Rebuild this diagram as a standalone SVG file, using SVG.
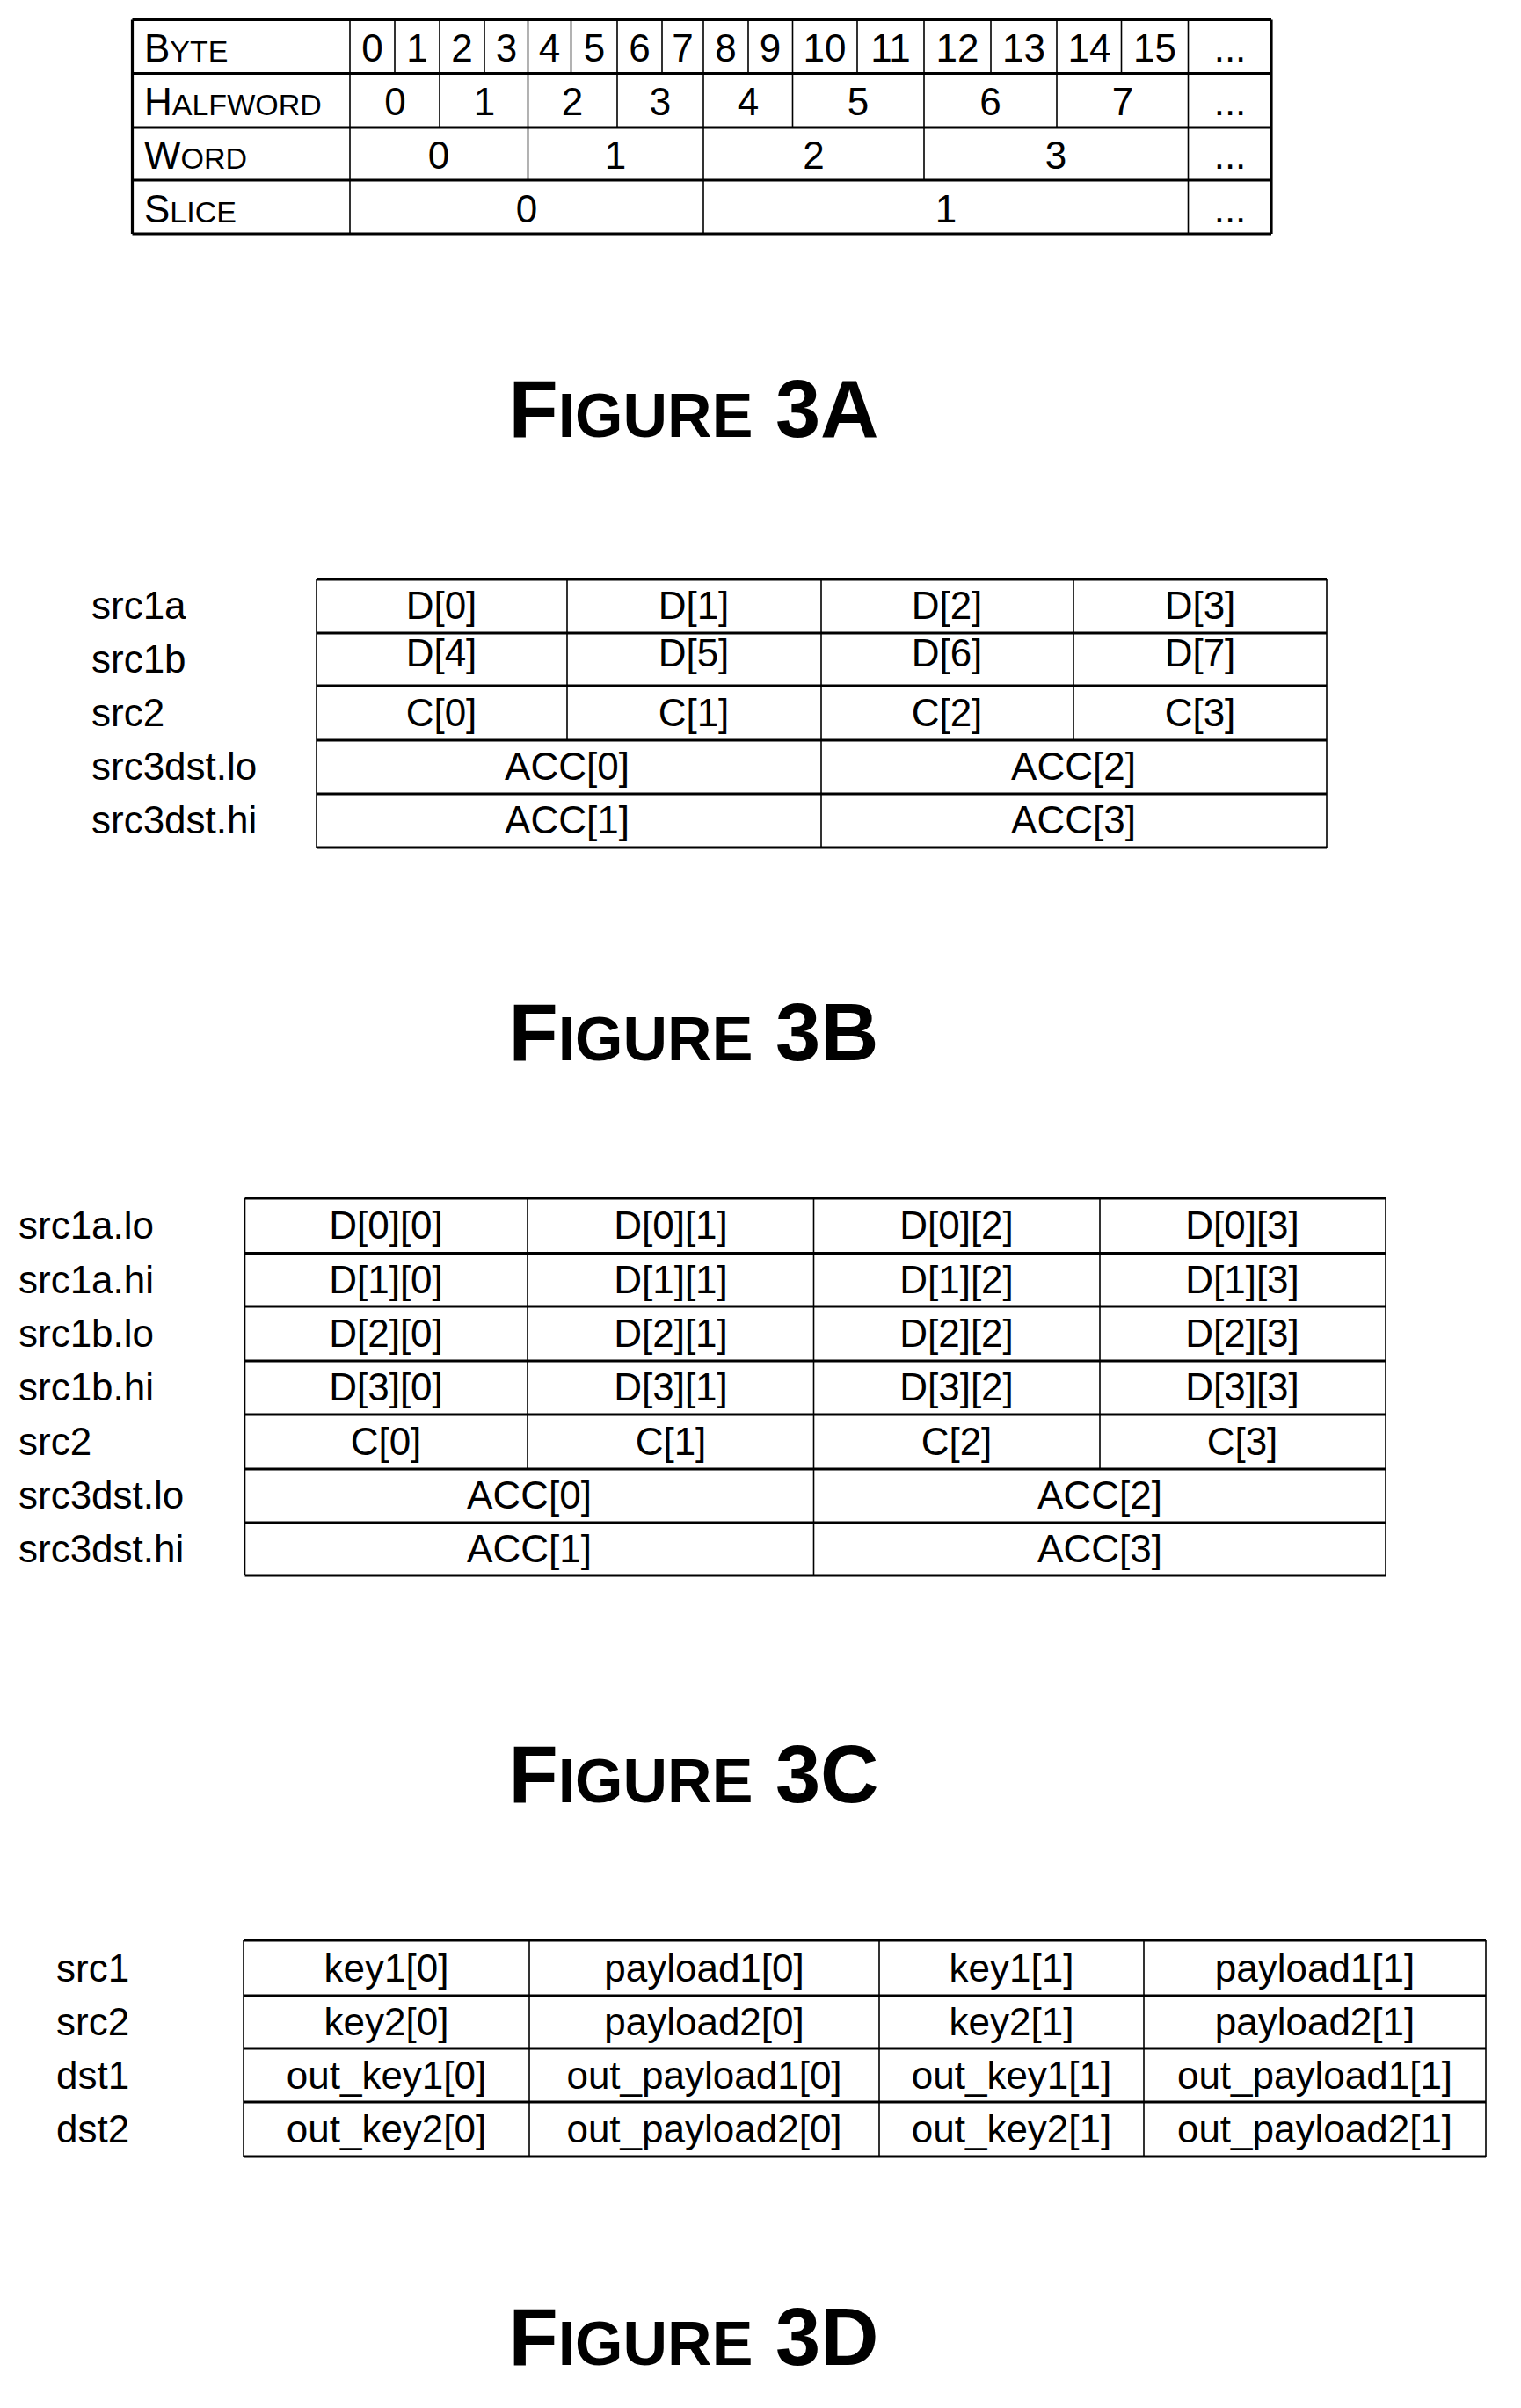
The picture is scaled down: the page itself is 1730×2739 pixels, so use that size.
<svg xmlns="http://www.w3.org/2000/svg" width="1730" height="2739" viewBox="0 0 1730 2739">
<style>
text{font-family:"Liberation Sans",Arial,sans-serif;font-size:44px;fill:#000}
.c{text-anchor:middle}
.sc{font-size:34px}
.t{font-size:92px;font-weight:bold;text-anchor:middle}
.t .sc{font-size:70px}
.v{stroke:#000;stroke-width:1.6;fill:none}
.h{stroke:#000;stroke-width:3.2;fill:none}
</style>
<rect width="1730" height="2739" fill="#fff"/>

<g id="fig3a">
<path class="v" d="M398 22.5V266M1351.5 22.5V266M800 22.5V266
M449 22.5V83.5M551 22.5V83.5M649.5 22.5V83.5M753 22.5V83.5M851 22.5V83.5M975 22.5V83.5M1127 22.5V83.5M1275.5 22.5V83.5
M500 22.5V145M702 22.5V145M901.5 22.5V145M1202 22.5V145
M600.5 22.5V205M1051 22.5V205"/>
<path class="h" d="M150.5 22.5H1446M150.5 83.5H1446M150.5 145H1446M150.5 205H1446M150.5 266H1446M150.5 22.5V266M1446 22.5V266"/>
<text x="164" y="70">B<tspan class="sc">YTE</tspan></text>
<text x="164" y="131">H<tspan class="sc">ALFWORD</tspan></text>
<text x="164" y="192">W<tspan class="sc">ORD</tspan></text>
<text x="164" y="253">S<tspan class="sc">LICE</tspan></text>
<g class="c">
<text x="423.5" y="70" class="c">0</text><text x="474.5" y="70" class="c">1</text><text x="525.5" y="70" class="c">2</text><text x="576" y="70" class="c">3</text>
<text x="625" y="70" class="c">4</text><text x="676" y="70" class="c">5</text><text x="727.5" y="70" class="c">6</text><text x="776.5" y="70" class="c">7</text>
<text x="825.5" y="70" class="c">8</text><text x="876" y="70" class="c">9</text><text x="938" y="70" class="c">10</text><text x="1013" y="70" class="c">11</text>
<text x="1089" y="70" class="c">12</text><text x="1164.5" y="70" class="c">13</text><text x="1239" y="70" class="c">14</text><text x="1313.5" y="70" class="c">15</text>
<text x="1399" y="70" class="c">...</text>
<text x="449.5" y="131" class="c">0</text><text x="551" y="131" class="c">1</text><text x="651" y="131" class="c">2</text><text x="751" y="131" class="c">3</text>
<text x="851" y="131" class="c">4</text><text x="976" y="131" class="c">5</text><text x="1126.5" y="131" class="c">6</text><text x="1277" y="131" class="c">7</text>
<text x="1399" y="131" class="c">...</text>
<text x="499" y="192" class="c">0</text><text x="700" y="192" class="c">1</text><text x="925.5" y="192" class="c">2</text><text x="1201" y="192" class="c">3</text>
<text x="1399" y="192" class="c">...</text>
<text x="599" y="253" class="c">0</text><text x="1076" y="253" class="c">1</text><text x="1399" y="253" class="c">...</text>
</g>
</g>
<text class="t" x="789" y="497">F<tspan class="sc">IGURE</tspan> 3A</text>

<g id="fig3b">
<path class="v" d="M360 659V964M1509 659V964M934 659V964M645 659V842M1221 659V842"/>
<path class="h" d="M360 659H1509M360 720H1509M360 780H1509M360 842H1509M360 903H1509M360 964H1509"/>
<text x="104" y="704">src1a</text><text x="104" y="765">src1b</text><text x="104" y="826">src2</text><text x="104" y="887">src3dst.lo</text><text x="104" y="948">src3dst.hi</text>
<text class="c" x="502" y="704">D[0]</text><text class="c" x="789" y="704">D[1]</text><text class="c" x="1077" y="704">D[2]</text><text class="c" x="1365" y="704">D[3]</text>
<text class="c" x="502" y="758">D[4]</text><text class="c" x="789" y="758">D[5]</text><text class="c" x="1077" y="758">D[6]</text><text class="c" x="1365" y="758">D[7]</text>
<text class="c" x="502" y="826">C[0]</text><text class="c" x="789" y="826">C[1]</text><text class="c" x="1077" y="826">C[2]</text><text class="c" x="1365" y="826">C[3]</text>
<text class="c" x="645" y="887">ACC[0]</text><text class="c" x="1221" y="887">ACC[2]</text>
<text class="c" x="645" y="948">ACC[1]</text><text class="c" x="1221" y="948">ACC[3]</text>
</g>
<text class="t" x="789" y="1206">F<tspan class="sc">IGURE</tspan> 3B</text>

<g id="fig3c">
<path class="v" d="M278.5 1363V1792M1576 1363V1792M925.5 1363V1792M600 1363V1671M1251 1363V1671"/>
<path class="h" d="M278.5 1363H1576M278.5 1425.5H1576M278.5 1486H1576M278.5 1548H1576M278.5 1609H1576M278.5 1671H1576M278.5 1732H1576M278.5 1792H1576"/>
<text x="21" y="1409">src1a.lo</text><text x="21" y="1471">src1a.hi</text><text x="21" y="1532">src1b.lo</text><text x="21" y="1593">src1b.hi</text><text x="21" y="1655">src2</text><text x="21" y="1716">src3dst.lo</text><text x="21" y="1777">src3dst.hi</text>
<text class="c" x="439" y="1409">D[0][0]</text><text class="c" x="763" y="1409">D[0][1]</text><text class="c" x="1088" y="1409">D[0][2]</text><text class="c" x="1413" y="1409">D[0][3]</text>
<text class="c" x="439" y="1471">D[1][0]</text><text class="c" x="763" y="1471">D[1][1]</text><text class="c" x="1088" y="1471">D[1][2]</text><text class="c" x="1413" y="1471">D[1][3]</text>
<text class="c" x="439" y="1532">D[2][0]</text><text class="c" x="763" y="1532">D[2][1]</text><text class="c" x="1088" y="1532">D[2][2]</text><text class="c" x="1413" y="1532">D[2][3]</text>
<text class="c" x="439" y="1593">D[3][0]</text><text class="c" x="763" y="1593">D[3][1]</text><text class="c" x="1088" y="1593">D[3][2]</text><text class="c" x="1413" y="1593">D[3][3]</text>
<text class="c" x="439" y="1655">C[0]</text><text class="c" x="763" y="1655">C[1]</text><text class="c" x="1088" y="1655">C[2]</text><text class="c" x="1413" y="1655">C[3]</text>
<text class="c" x="602" y="1716">ACC[0]</text><text class="c" x="1251" y="1716">ACC[2]</text>
<text class="c" x="602" y="1777">ACC[1]</text><text class="c" x="1251" y="1777">ACC[3]</text>
</g>
<text class="t" x="789" y="2050">F<tspan class="sc">IGURE</tspan> 3C</text>

<g id="fig3d">
<path class="v" d="M277 2207V2453M602 2207V2453M1000 2207V2453M1301 2207V2453M1690 2207V2453"/>
<path class="h" d="M277 2207H1690M277 2270H1690M277 2330H1690M277 2391H1690M277 2453H1690"/>
<text x="64" y="2254">src1</text><text x="64" y="2315">src2</text><text x="64" y="2376">dst1</text><text x="64" y="2437">dst2</text>
<text class="c" x="439.5" y="2254">key1[0]</text><text class="c" x="801" y="2254">payload1[0]</text><text class="c" x="1150.5" y="2254">key1[1]</text><text class="c" x="1495.5" y="2254">payload1[1]</text>
<text class="c" x="439.5" y="2315">key2[0]</text><text class="c" x="801" y="2315">payload2[0]</text><text class="c" x="1150.5" y="2315">key2[1]</text><text class="c" x="1495.5" y="2315">payload2[1]</text>
<text class="c" x="439.5" y="2376">out_key1[0]</text><text class="c" x="801" y="2376">out_payload1[0]</text><text class="c" x="1150.5" y="2376">out_key1[1]</text><text class="c" x="1495.5" y="2376">out_payload1[1]</text>
<text class="c" x="439.5" y="2437">out_key2[0]</text><text class="c" x="801" y="2437">out_payload2[0]</text><text class="c" x="1150.5" y="2437">out_key2[1]</text><text class="c" x="1495.5" y="2437">out_payload2[1]</text>
</g>
<text class="t" x="789" y="2690">F<tspan class="sc">IGURE</tspan> 3D</text>
</svg>
